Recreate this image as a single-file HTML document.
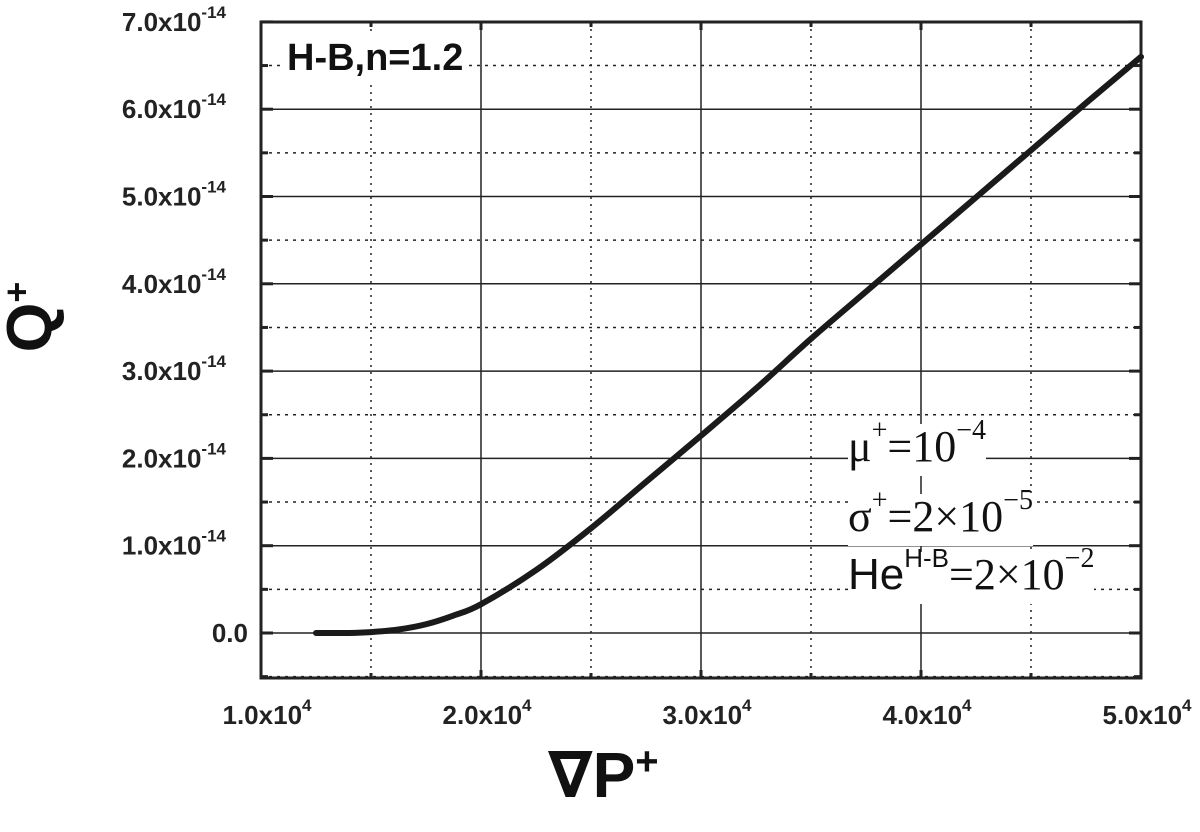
<!DOCTYPE html>
<html><head><meta charset="utf-8"><style>
body{margin:0;background:#fff;}
svg{display:block;}
.tk{font-family:"Liberation Sans",sans-serif;font-weight:bold;font-size:26px;fill:#222;}
.sp{font-size:17px;}
.ann{position:absolute;font:44px 'Liberation Serif',serif;color:#111;background:#fff;line-height:46px;white-space:nowrap}
.ann sup{font-size:28px;vertical-align:0;position:relative;top:-22px}
</style></head><body>
<svg width="1200" height="832" id="c">
</svg>
<script>
const xTicks=[1.0,2.0,3.0,4.0,5.0];
const yTicks=[0,1,2,3,4,5,6,7];
const xData=[1.25,1.4,1.5,1.625,1.75,1.875,2.0,2.25,2.5,2.75,3.0,3.25,3.5,3.75,4.0,4.25,4.5,4.75,5.0];
const yData=[0,0,0.01,0.04,0.1,0.2,0.33,0.72,1.2,1.73,2.26,2.8,3.37,3.91,4.45,4.99,5.53,6.07,6.6];
const L=261,R=1141,T=22,B=678;
const X=v=>L+(v-1)/4*(R-L);
const Y=v=>633-v*87.3;
const NS='http://www.w3.org/2000/svg';
const svg=document.getElementById('c');
function mk(tag,attrs,parent){const e=document.createElementNS(NS,tag);for(const k in attrs)e.setAttribute(k,attrs[k]);(parent||svg).appendChild(e);return e;}
const g=mk('g',{});


for(let v=1;v<=5.001;v+=0.5){const x=X(v);const major=Math.abs(v-Math.round(v))<1e-6;
 const l=mk('line',{x1:x,x2:x,y1:T,y2:B,stroke:'#222','stroke-width':1.5,'stroke-dasharray':major?'':'2 5'},g);
 
 mk('line',{x1:x,x2:x,y1:B,y2:B-(major?8:5),stroke:'#222','stroke-width':3},g);
 mk('line',{x1:x,x2:x,y1:T,y2:T+(major?8:5),stroke:'#222','stroke-width':3},g);}
for(let v=-0.5;v<=7.001;v+=0.5){const y=Y(v);const major=Math.abs(v-Math.round(v))<1e-6;
 const l=mk('line',{x1:L,x2:R,y1:y,y2:y,stroke:'#222','stroke-width':1.5,'stroke-dasharray':major?'':'3 5'},g);
 
 mk('line',{x1:L,x2:L+(major?12:7),y1:y,y2:y,stroke:'#222','stroke-width':3},g);
 mk('line',{x1:R,x2:R-(major?12:7),y1:y,y2:y,stroke:'#222','stroke-width':3},g);}
const fr=mk('rect',{x:L,y:T,width:R-L,height:B-T,fill:'none',stroke:'#222','stroke-width':3});

xTicks.forEach(v=>{const t=mk('text',{x:X(v)+6,y:724,'text-anchor':'middle',class:'tk'});
 
 t.innerHTML=v.toFixed(1)+'x10<tspan class="sp" dy="-13">4</tspan>';});
yTicks.forEach(v=>{const t=mk('text',{x:v===0?248:226,y:Y(v)+9,'text-anchor':'end',class:'tk'});
 
 t.innerHTML=v===0?'0.0':v.toFixed(1)+'x10<tspan class="sp" dy="-13">-14</tspan>';});
const P=xData.map((v,i)=>[X(v),Y(yData[i])]);
let d='M'+P[0][0]+','+P[0][1];
for(let i=0;i<P.length-1;i++){const p0=P[Math.max(i-1,0)],p1=P[i],p2=P[i+1],p3=P[Math.min(i+2,P.length-1)];
 d+=' C'+(p1[0]+(p2[0]-p0[0])/6)+','+(p1[1]+(p2[1]-p0[1])/6)+' '+(p2[0]-(p3[0]-p1[0])/6)+','+(p2[1]-(p3[1]-p1[1])/6)+' '+p2[0]+','+p2[1];}
const c=mk('path',{d:d,fill:'none',stroke:'#1a1a1a','stroke-width':6,'stroke-linejoin':'round','stroke-linecap':'round'});

</script>
<div style="position:absolute;left:283px;top:36px;background:#fff;padding:0 4px;font:bold 38px 'Liberation Sans',sans-serif;color:#111;line-height:44px">H-B,n=1.2</div>
<div class="ann" style="left:848px;top:424px">μ<sup>+</sup>=10<sup>−4</sup></div>
<div class="ann" style="left:848px;top:494px">σ<sup>+</sup>=2×10<sup>−5</sup></div>
<div class="ann" style="left:848px;top:552px"><span style="font-family:'Liberation Sans',sans-serif">He<sup style="font-size:26px">H-B</sup></span>=2×10<sup>−2</sup></div>
<div style="position:absolute;left:-6px;top:280px;transform:rotate(-90deg);font:bold 64px 'Liberation Sans',sans-serif;color:#111">Q<sup style="font-size:36px">+</sup></div>
<div style="position:absolute;left:548px;top:738px;font:bold 64px 'Liberation Sans','DejaVu Sans',sans-serif;color:#111">∇P<sup style="font-size:40px">+</sup></div>
</body></html>
